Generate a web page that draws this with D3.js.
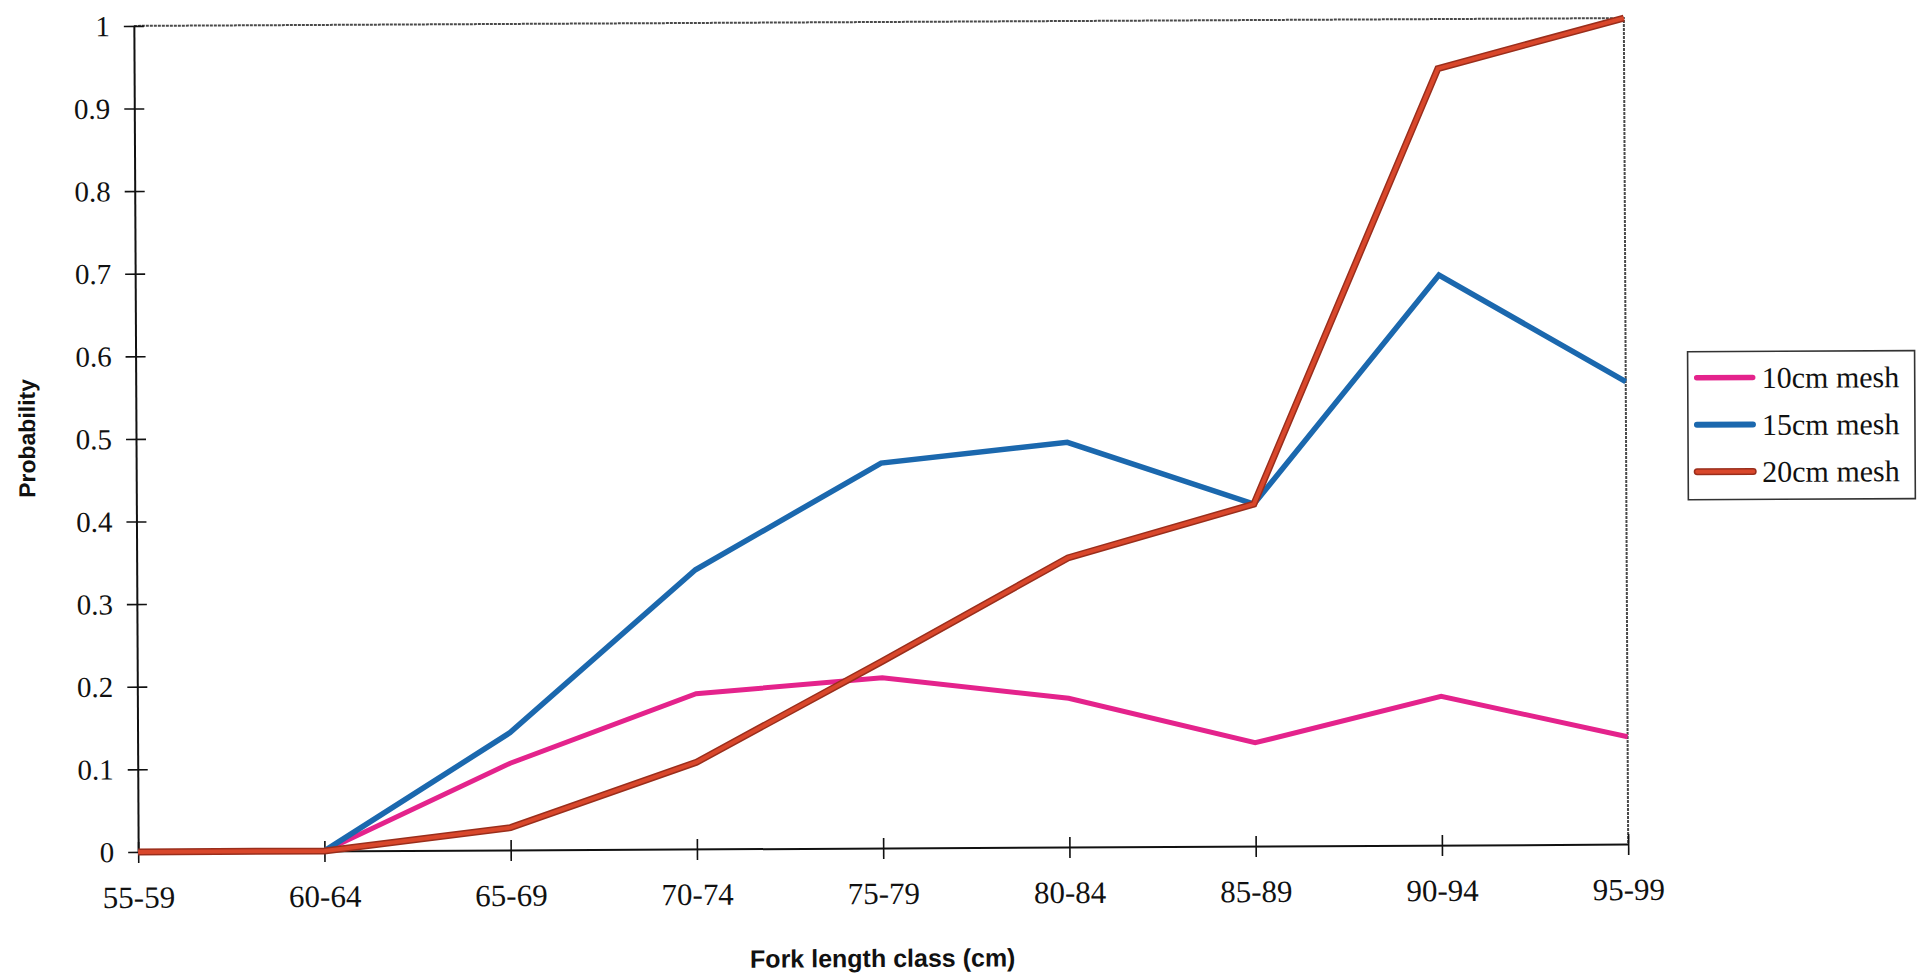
<!DOCTYPE html>
<html>
<head>
<meta charset="utf-8">
<script src="https://cdn.jsdelivr.net/npm/d3@7"></script>
<style>
  html, body { margin: 0; padding: 0; background: #ffffff; }
  svg { display: block; }
</style>
</head>
<body>
<svg id="chart" width="1928" height="974"></svg>
<script>
// Fork length classes and selection probability per gill-net mesh size
const categories = ["55-59", "60-64", "65-69", "70-74", "75-79", "80-84", "85-89", "90-94", "95-99"];
const mesh10 = [0, 0, 0.105, 0.188, 0.206, 0.18, 0.125, 0.18, 0.13];
const mesh15 = [0, 0, 0.142, 0.338, 0.466, 0.49, 0.414, 0.69, 0.56];
const mesh20 = [0, 0, 0.027, 0.105, 0.226, 0.35, 0.414, 0.94, 1.0];
const seriesNames = ["10cm mesh", "15cm mesh", "20cm mesh"];
const yTickValues = [0, 0.1, 0.2, 0.3, 0.4, 0.5, 0.6, 0.7, 0.8, 0.9, 1];

const series = [
  { name: seriesNames[0], values: mesh10, color: "#e4238c", width: 5 },
  { name: seriesNames[1], values: mesh15, color: "#1b68ae", width: 5.5 },
  { name: seriesNames[2], values: mesh20, color: "#d9472b", width: 4, edge: "#9a2e1c", edgeWidth: 7 }
];

const plot = { left: 136, right: 1626, top: 22, bottom: 848 };

const svg = d3.select("#chart");
// the whole figure sits at a very slight tilt
const root = svg.append("g").attr("transform", "rotate(-0.3, 881, 435)");

const x = d3.scalePoint().domain(categories).range([plot.left, plot.right]).padding(0);
const y = d3.scaleLinear().domain([0, 1]).range([plot.bottom, plot.top]);

const serif = "'Liberation Serif', 'Times New Roman', serif";
const sans = "'Liberation Sans', Arial, sans-serif";

// top and right frame lines
root.append("path")
  .attr("d", `M${plot.left},${y(1)} H${plot.right} V${plot.bottom}`)
  .attr("fill", "none")
  .attr("stroke", "#4a4a4a")
  .attr("stroke-width", 2)
  .attr("stroke-dasharray", "3 1");

// y axis
const yAxis = root.append("g")
  .attr("transform", `translate(${plot.left},0)`)
  .call(d3.axisLeft(y).tickValues(yTickValues).tickSize(0).tickPadding(24)
    .tickFormat(d => d3.format("~g")(d)));
yAxis.select(".domain").attr("stroke", "#111").attr("stroke-width", 2);
yAxis.selectAll(".tick").append("line")
  .attr("x1", -10).attr("x2", 10)
  .attr("stroke", "#111").attr("stroke-width", 1.6);
yAxis.selectAll(".tick text")
  .attr("font-family", serif)
  .attr("font-size", 29)
  .attr("fill", "#111")
  .attr("dy", "0.33em");

// x axis
const xAxis = root.append("g")
  .attr("transform", `translate(0,${plot.bottom})`)
  .call(d3.axisBottom(x).tickSize(0).tickPadding(0));
xAxis.select(".domain").attr("stroke", "#111").attr("stroke-width", 2);
xAxis.selectAll(".tick").append("line")
  .attr("y1", -10).attr("y2", 11)
  .attr("stroke", "#111").attr("stroke-width", 1.6);
xAxis.selectAll(".tick text")
  .attr("font-family", serif)
  .attr("font-size", 31)
  .attr("fill", "#111")
  .attr("y", 56)
  .attr("dy", 0);

// series lines
const line = d3.line()
  .x((d, i) => x(categories[i]))
  .y(d => y(d));

series.forEach(s => {
  if (s.edge) {
    root.append("path")
      .attr("d", line(s.values))
      .attr("fill", "none")
      .attr("stroke", s.edge)
      .attr("stroke-width", s.edgeWidth)
      .attr("stroke-linejoin", "miter");
  }
  root.append("path")
    .attr("d", line(s.values))
    .attr("fill", "none")
    .attr("stroke", s.color)
    .attr("stroke-width", s.width)
    .attr("stroke-linejoin", "miter");
});

// axis titles
root.append("text")
  .attr("transform", "translate(35,434) rotate(-90)")
  .attr("text-anchor", "middle")
  .attr("font-family", sans)
  .attr("font-weight", "bold")
  .attr("font-size", 23)
  .attr("fill", "#111")
  .text("Probability");

root.append("text")
  .attr("x", 880)
  .attr("y", 967)
  .attr("text-anchor", "middle")
  .attr("font-family", sans)
  .attr("font-weight", "bold")
  .attr("font-size", 25)
  .attr("fill", "#111")
  .text("Fork length class (cm)");

// legend
const legend = root.append("g");
legend.append("rect")
  .attr("x", 1688).attr("y", 356)
  .attr("width", 227).attr("height", 148)
  .attr("fill", "#fff")
  .attr("stroke", "#333")
  .attr("stroke-width", 1.6);

const rowY = d3.scalePoint().domain(seriesNames).range([382, 476]);
series.forEach(s => {
  const cy = rowY(s.name);
  if (s.edge) {
    legend.append("line")
      .attr("x1", 1697).attr("x2", 1753).attr("y1", cy).attr("y2", cy)
      .attr("stroke", s.edge).attr("stroke-width", s.edgeWidth)
      .attr("stroke-linecap", "round");
  }
  legend.append("line")
    .attr("x1", 1697).attr("x2", 1753).attr("y1", cy).attr("y2", cy)
    .attr("stroke", s.color).attr("stroke-width", s.edge ? s.width : s.width + 0.5)
    .attr("stroke-linecap", "round");
  legend.append("text")
    .attr("x", 1762).attr("y", cy)
    .attr("dy", "0.35em")
    .attr("font-family", serif)
    .attr("font-size", 30)
    .attr("fill", "#111")
    .text(s.name);
});
</script>
</body>
</html>
